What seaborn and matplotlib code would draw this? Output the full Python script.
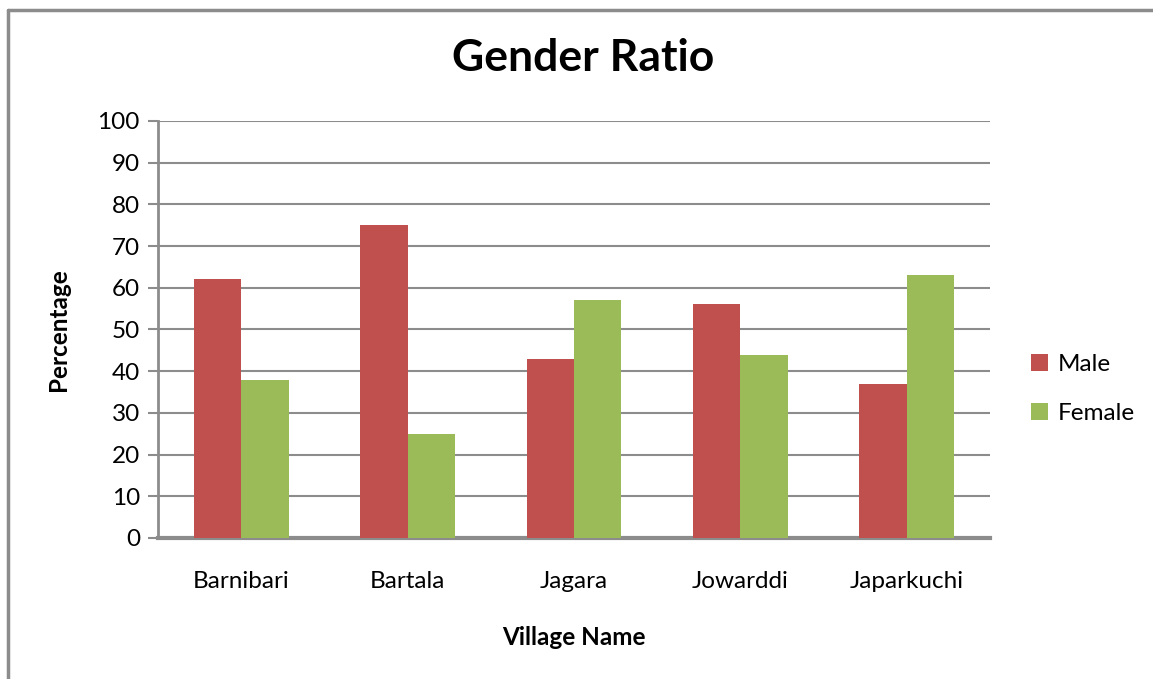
import matplotlib
matplotlib.use("Agg")
import matplotlib.pyplot as plt
import seaborn as sns
import pandas as pd
from matplotlib.lines import Line2D

villages = ["Barnibari", "Bartala", "Jagara", "Jowarddi", "Japarkuchi"]
male = [62, 75, 43, 56, 37]
female = [38, 25, 57, 44, 63]
series = ["Male", "Female"]
colors = ["#C0504D", "#9BBB59"]

df = pd.DataFrame({
    "Village Name": villages * 2,
    "Percentage": male + female,
    "Gender": ["Male"] * len(villages) + ["Female"] * len(villages),
})

sns.set_theme(style="white")
plt.rcParams["font.family"] = ["Lato", "DejaVu Sans"]
plt.rcParams["text.color"] = "#000000"

fig = plt.figure(figsize=(11.53, 6.79), dpi=100)
ax = fig.add_axes([0.137, 0.2077, 0.7217, 0.6141])

sns.barplot(data=df, x="Village Name", y="Percentage", hue="Gender",
            hue_order=series, palette=colors, width=0.57, saturation=1,
            edgecolor="none", linewidth=0, ax=ax, zorder=3)

ax.set_ylim(0, 100)
ax.set_yticks(range(0, 101, 10))
ax.set_xlim(-0.5, len(villages) - 0.5)
ax.yaxis.grid(True, color="#8c8c8c", linewidth=1.5, zorder=0)
ax.set_axisbelow(True)
for s in ["top", "right"]:
    ax.spines[s].set_visible(False)
ax.spines["left"].set_color("#8c8c8c")
ax.spines["left"].set_linewidth(2)
ax.spines["bottom"].set_color("#8c8c8c")
ax.spines["bottom"].set_linewidth(3)
ax.tick_params(axis="y", which="major", length=7, width=1.5, color="#8c8c8c",
               labelsize=17.5, pad=6, left=True, labelcolor="#000000")
ax.tick_params(axis="x", length=0, labelsize=17.5, pad=24, labelcolor="#000000")

ax.set_xlabel("Village Name", fontsize=17.5, fontweight="bold", labelpad=24,
              color="#000000")
ax.set_ylabel("Percentage", fontsize=17.5, fontweight="bold", labelpad=20,
              color="#000000")
ax.set_title("Gender Ratio", fontsize=32, fontweight="bold", pad=36,
             color="#000000", x=0.511)

leg = ax.legend(loc="center left", bbox_to_anchor=(1.023, 0.358), frameon=False,
                fontsize=17.5, handlelength=0.7, handleheight=0.7,
                handletextpad=0.4, labelspacing=1.15)
for t in leg.get_texts():
    t.set_color("#000000")

# figure frame (left and top edges visible)
fig.add_artist(Line2D([8 / 1153, 8 / 1153], [0, 1 - 10 / 679],
                      transform=fig.transFigure, color="#8c8c8c", lw=2.5))
fig.add_artist(Line2D([8 / 1153, 1], [1 - 10 / 679, 1 - 10 / 679],
                      transform=fig.transFigure, color="#8c8c8c", lw=2.5))

fig.savefig("out.png", dpi=100)
